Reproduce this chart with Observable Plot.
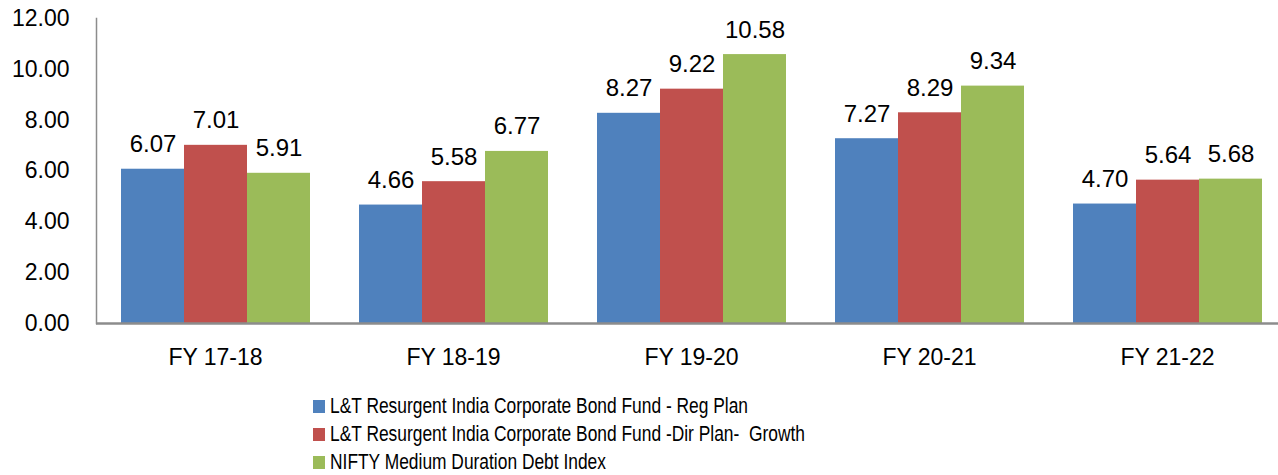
<!DOCTYPE html>
<html><head><meta charset="utf-8">
<script src="https://cdn.jsdelivr.net/npm/d3@7"></script>
<script src="https://cdn.jsdelivr.net/npm/@observablehq/plot@0.6"></script>
<style>
body{margin:0;background:#fff;overflow:hidden;}
#legend{padding-left:313px;margin-top:12px;font-family:"Liberation Sans",Arial,sans-serif;font-size:22px;color:#000;}
.item{display:flex;align-items:center;height:28px;}
.sw{width:12px;height:13px;margin-right:5px;flex:none;}
.lt{white-space:pre;display:inline-block;transform:scaleX(0.79);transform-origin:left center;}
</style></head><body>
<div id="chart"></div>
<div id="legend"></div>
<script>
const categories = ["FY 17-18", "FY 18-19", "FY 19-20", "FY 20-21", "FY 21-22"];
const seriesNames = [
  "L&T Resurgent India Corporate Bond Fund - Reg Plan",
  "L&T Resurgent India Corporate Bond Fund -Dir Plan-  Growth",
  "NIFTY Medium Duration Debt Index"
];
const regPlan = [6.07, 4.66, 8.27, 7.27, 4.70];
const dirPlan = [7.01, 5.58, 9.22, 8.29, 5.64];
const benchmark = [5.91, 6.77, 10.58, 9.34, 5.68];
const yTicks = [0, 2, 4, 6, 8, 10, 12];
const colors = ["#4F81BD", "#C0504D", "#9BBB59"];

const seriesValues = [regPlan, dirPlan, benchmark];
const table = [];
categories.forEach((c, i) => {
  seriesNames.forEach((s, j) => table.push({cat: c, series: s, value: seriesValues[j][i]}));
});

const font = '"Liberation Sans", Arial, sans-serif';
const chart = Plot.plot({
  width: 1278, height: 380,
  marginLeft: 95, marginRight: -8, marginTop: 18, marginBottom: 57,
  style: {fontFamily: font, fontSize: "23px", color: "#000", background: "#fff", overflow: "hidden"},
  fx: {domain: categories, padding: 0, label: null},
  x: {domain: seriesNames, paddingInner: 0, paddingOuter: 0.38, axis: null},
  y: {domain: [0, 12], label: null},
  color: {domain: seriesNames, range: colors},
  marks: [
    Plot.barY(table, {fx: "cat", x: "series", y: "value", fill: "series"}),
    Plot.text(table, {fx: "cat", x: "series", y: "value", text: d => d.value.toFixed(2),
      lineAnchor: "bottom", dy: -17, fill: "#000", fontSize: 24}),
    Plot.frame({anchor: "left", stroke: "#8c8c8c", strokeWidth: 1.5, facetAnchor: "left"}),
    Plot.ruleY([0], {stroke: "#8c8c8c", strokeWidth: 2.5}),
    Plot.axisY({ticks: yTicks, tickFormat: d => d.toFixed(2), tickSize: 0, tickPadding: 27,
      fill: "#000", label: null, fontSize: 23}),
    Plot.axisFx({anchor: "bottom", tickSize: 0, tickPadding: 25, label: null, fill: "#000", fontSize: 23})
  ]
});
document.getElementById("chart").appendChild(chart);

const legend = document.getElementById("legend");
seriesNames.forEach((s, j) => {
  const it = document.createElement("div");
  it.className = "item";
  const sw = document.createElement("span");
  sw.className = "sw";
  sw.style.background = colors[j];
  const t = document.createElement("span");
  t.className = "lt";
  t.textContent = s;
  it.appendChild(sw); it.appendChild(t);
  legend.appendChild(it);
});
</script>
</body></html>
